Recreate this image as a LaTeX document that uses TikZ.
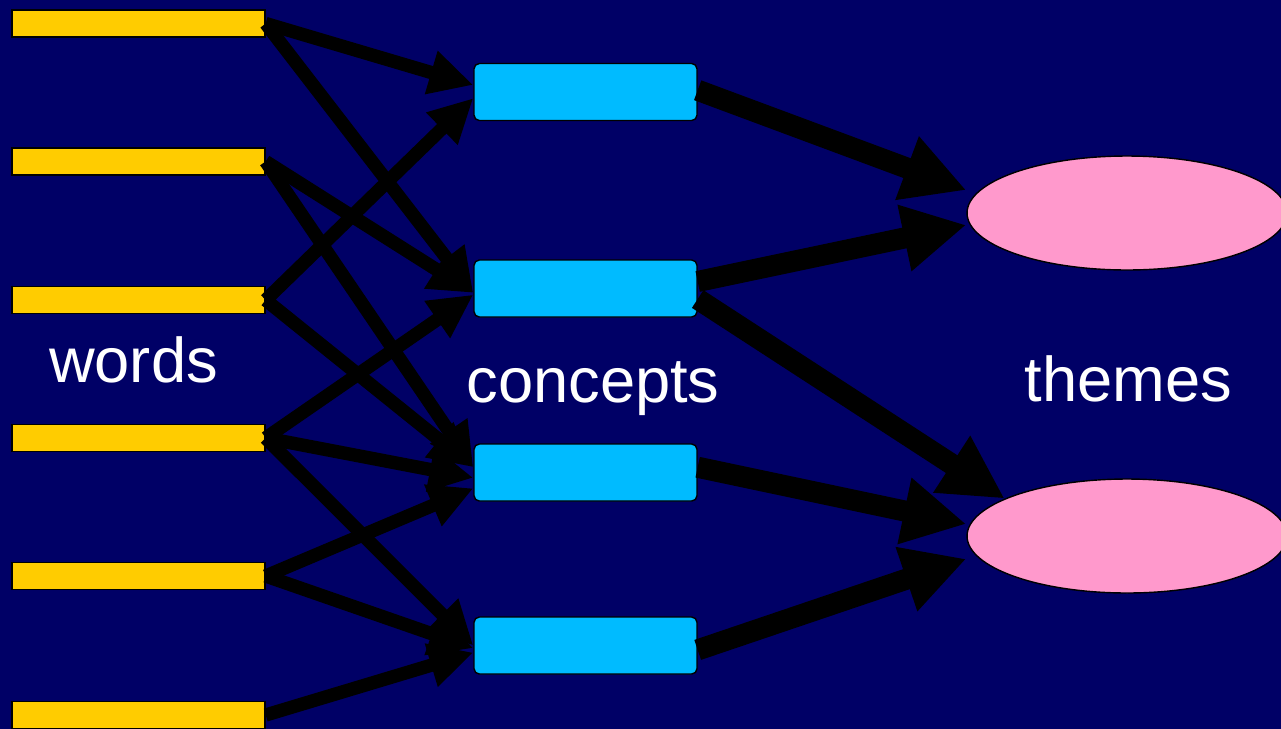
\documentclass[tikz,border=0pt]{standalone}
\usepackage{fontspec}
\setmainfont{Liberation Sans}
\usetikzlibrary{arrows.meta,shapes.geometric}

\definecolor{slidenavy}{HTML}{000066}
\definecolor{wordyellow}{HTML}{FFCC00}
\definecolor{conceptblue}{HTML}{00BBFF}
\definecolor{themepink}{HTML}{FF99CC}

\begin{document}
\begin{tikzpicture}
  [
    x = 0.02cm, y = -0.02cm,
    word bar/.style = {draw=black,line width=0.8pt,fill=wordyellow,minimum width=5.06cm,minimum height=0.54cm,inner sep=0},
    concept box/.style = {draw=black,line width=0.8pt,fill=conceptblue,rounded corners=3pt,minimum width=4.46cm,minimum height=1.14cm,inner sep=0},
    theme blob/.style = {ellipse,draw=black,line width=0.8pt,fill=themepink,minimum width=6.4cm,minimum height=2.28cm,inner sep=0},
    layer label/.style = {anchor=base,text=white,font=\fontsize{36}{43}\selectfont},
    word link/.style = {line width=7.6pt,-{Triangle[length=25pt,width=24pt]}},
    theme link/.style = {line width=12pt,-{Triangle[length=36pt,width=36pt]}},
  ]

  \useasboundingbox (0,0) rectangle (1281,728);
  \fill [slidenavy] (-10,-10) rectangle (1291,738);

  % three layers
  \foreach \i/\y in {1/23.5,2/161.5,3/300,4/438,5/576,6/715}
    \node [word bar] (w\i) at (138.5,\y) {};
  \foreach \i/\y in {1/92,2/288.5,3/472.5,4/645.5}
    \node [concept box] (c\i) at (585.5,\y) {};
  \node [theme blob] (t1) at (1127,213) {};
  \node [theme blob] (t2) at (1127,536) {};

  \node [layer label] (wordsl)    at (133.5,382) {words};
  \node [layer label] (conceptsl) at (593,402)   {concepts};
  \node [layer label] (themesl)   at (1128.5,401) {themes};

  % words -> concepts
  \foreach \a/\b/\s in {w1/c1/4,w1/c2/-2.5,w2/c2/-2.5,w2/c3/3,w3/c1/-3.5,w3/c3/3,
                        w4/c2/-3.5,w4/c3/-3,w4/c4/0,w5/c3/-9,w5/c4/-1.5,w6/c4/-4}
    \draw [word link] (\a.east) -- ([yshift=\s pt]\b.west);

  % concepts -> themes
  \draw [theme link] ([yshift=1pt]c1.east)  -- ([yshift=13pt]t1.west);
  \draw [theme link] ([yshift=4pt]c2.east)  -- ([yshift=-6.8pt]t1.west);
  \draw [theme link] ([yshift=-6pt]c2.east) -- (t2.163);
  \draw [theme link] ([yshift=3pt]c3.east)  -- ([yshift=6.8pt]t2.west);
  \draw [theme link] ([yshift=-2.5pt]c4.east) -- ([yshift=-13pt]t2.west);

\end{tikzpicture}
\end{document}
